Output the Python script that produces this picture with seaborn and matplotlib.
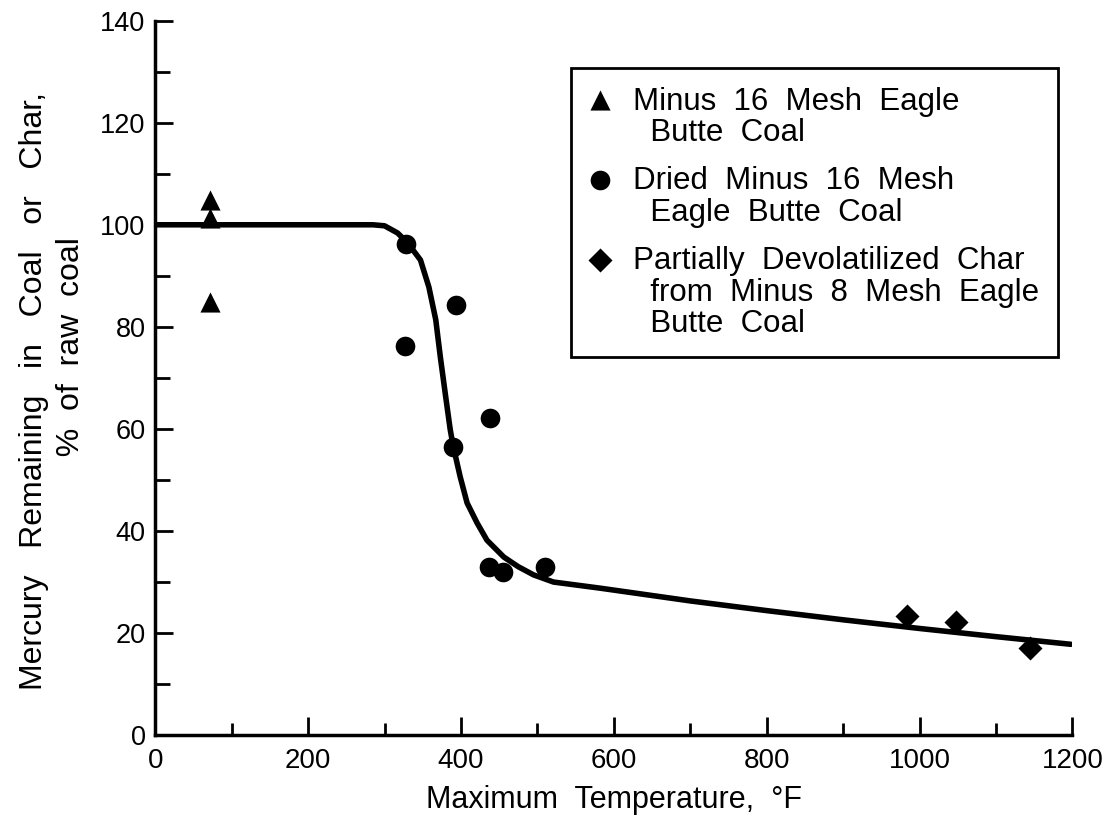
import matplotlib
matplotlib.use("Agg")
import matplotlib.pyplot as plt
from matplotlib.ticker import MultipleLocator
import seaborn as sns

# Data
tri_x = [72, 72, 72]
tri_y = [104.9, 101.4, 84.9]

circ_x = [328, 327, 393, 438, 390, 437, 455, 510]
circ_y = [96.3, 76.3, 84.3, 62.2, 56.5, 32.9, 32.0, 32.9]

dia_x = [983, 1048, 1145]
dia_y = [23.3, 22.2, 17.1]

curve_x = [0, 100, 200, 285, 300, 317, 330, 347, 358, 367, 373, 380, 386, 390,
           399, 408, 421, 434, 456, 475, 495, 521, 582, 700, 800, 900, 1000, 1100, 1198]
curve_y = [100, 100, 100, 100, 99.8, 98.4, 96.5, 93.1, 87.8, 81.4, 74.1, 66.3, 59.8, 56.5,
           50.6, 45.5, 41.6, 38.2, 34.9, 33.0, 31.4, 30.0, 28.8, 26.3, 24.4, 22.6, 20.9, 19.3, 17.8]

labels = ["Minus  16  Mesh  Eagle\n  Butte  Coal",
          "Dried  Minus  16  Mesh\n  Eagle  Butte  Coal",
          "Partially  Devolatilized  Char\n  from  Minus  8  Mesh  Eagle\n  Butte  Coal"]

sns.set_theme(style="ticks", rc={
    "text.color": "black", "axes.labelcolor": "black", "axes.edgecolor": "black",
    "xtick.color": "black", "ytick.color": "black"})
plt.rcParams['font.family'] = ['Liberation Sans', 'DejaVu Sans']

fig = plt.figure(figsize=(11.09, 8.26), dpi=100)
ax = fig.add_axes([0.140, 0.110, 0.827, 0.865])

sns.lineplot(x=curve_x, y=curve_y, ax=ax, color="black", linewidth=4.0,
             solid_capstyle="round", solid_joinstyle="round", sort=False, legend=False)

sns.scatterplot(x=tri_x, y=tri_y, ax=ax, marker="^", s=210, color="black",
                edgecolor="black", linewidth=0, label=labels[0])
sns.scatterplot(x=circ_x, y=circ_y, ax=ax, marker="o", s=200, color="black",
                edgecolor="black", linewidth=0, label=labels[1])
sns.scatterplot(x=dia_x, y=dia_y, ax=ax, marker="D", s=150, color="black",
                edgecolor="black", linewidth=0, label=labels[2])

ax.set_xlim(0, 1200)
ax.set_ylim(0, 140)
ax.xaxis.set_major_locator(MultipleLocator(200))
ax.xaxis.set_minor_locator(MultipleLocator(100))
ax.yaxis.set_major_locator(MultipleLocator(20))
ax.yaxis.set_minor_locator(MultipleLocator(10))
ax.tick_params(axis="both", which="major", direction="in", length=13, width=2,
               colors="black", pad=8)
ax.tick_params(axis="both", which="minor", direction="in", length=9, width=2, colors="black")
ax.tick_params(axis="x", which="major", labelsize=20, pad=9)
ax.tick_params(axis="y", which="major", labelsize=19.5, pad=7)
ax.tick_params(axis="y", which="minor", length=11)

for s in ["top", "right"]:
    ax.spines[s].set_visible(False)
for s in ["left", "bottom"]:
    ax.spines[s].set_linewidth(2.5)
    ax.spines[s].set_color("black")

ax.set_xlabel("Maximum  Temperature,  \u00b0F", fontsize=22, labelpad=8)
ax.set_ylabel("Mercury   Remaining   in   Coal   or   Char,\n" + " " * 10 + "%  of  raw  coal",
              fontsize=23, linespacing=1.3)
ax.yaxis.set_label_coords(-0.076, 0.482)

leg = ax.legend(loc="upper right", bbox_to_anchor=(0.984, 0.934), borderaxespad=0,
                fontsize=22.5, frameon=True, fancybox=False, edgecolor="black", framealpha=1,
                borderpad=0.6, handlelength=0.65, handletextpad=0.72, labelspacing=0.6,
                markerscale=1.0)
leg.get_frame().set_linewidth(2)
for t in leg.get_texts():
    t.set_linespacing(1.05)
# align markers with the first line of each label
try:
    for col in leg._legend_handle_box.get_children():
        for item in col.get_children():
            item.align = "top"
except Exception:
    pass

fig.savefig("out.png", dpi=100)
